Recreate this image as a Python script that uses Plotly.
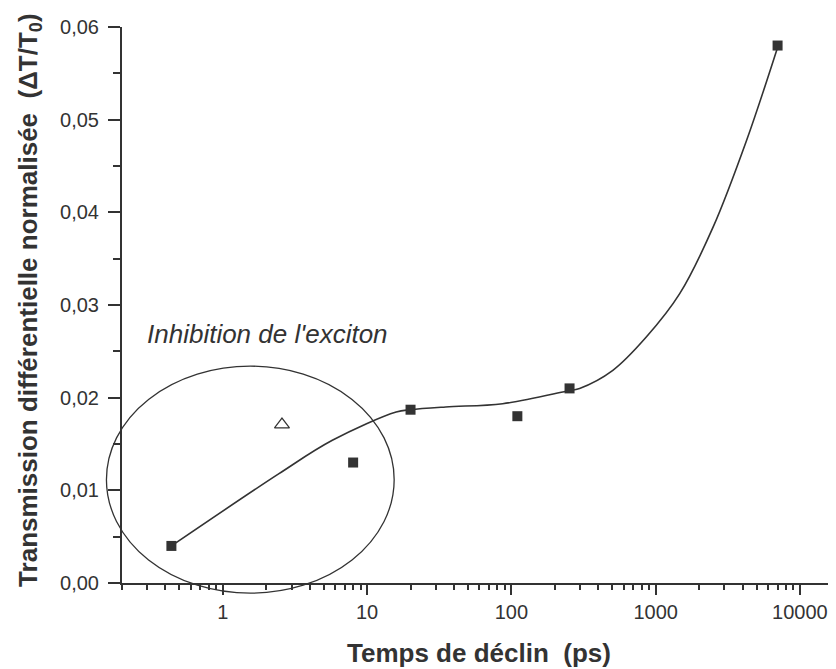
import numpy as np
import plotly.graph_objects as go

# Measured points (squares)
meas_x = [0.44, 8, 20, 110, 253, 7000]
meas_y = [0.0040, 0.0130, 0.0187, 0.0180, 0.0210, 0.0580]
# Open triangle point
tri_x = [2.57]
tri_y = [0.0171]
# Guide curve
fit_x = [0.44, 2.45, 5.74, 15.9, 20, 35, 87, 240, 297, 505, 861, 1468, 2500, 4265, 7000]
fit_y = [0.0040, 0.0118, 0.0154, 0.01845, 0.0187, 0.0190, 0.01935, 0.0207,
         0.0210, 0.02295, 0.02654, 0.03122, 0.0384, 0.04776, 0.0578]
# Ellipse bounds (data units)
ell_x = [0.156, 15.4]
ell_y = [-0.0011, 0.0234]

x_tickvals = [1, 10, 100, 1000, 10000]
x_ticktext = ["1", "10", "100", "1000", "10000"]
y_tickvals = [0, 0.01, 0.02, 0.03, 0.04, 0.05, 0.06]
y_ticktext = ["0,00", "0,01", "0,02", "0,03", "0,04", "0,05", "0,06"]
y_minor = [0.005, 0.015, 0.025, 0.035, 0.045, 0.055]
x_minor = [m * 10.0 ** d for d in range(-1, 5) for m in range(2, 10) if 0.2 <= m * 10.0 ** d <= 17000]

x_range = [np.log10(0.2), 4.25]
y_range = [0.0, 0.06]

ink = "#333333"
font_family = "Liberation Sans, Arial, sans-serif"

fig = go.Figure()
fig.add_trace(go.Scatter(x=fit_x, y=fit_y, mode="lines",
                         line=dict(color=ink, width=1.6, shape="spline", smoothing=1.0),
                         hoverinfo="skip", showlegend=False))
fig.add_trace(go.Scatter(x=meas_x, y=meas_y, mode="markers",
                         marker=dict(symbol="square", size=10, color=ink), showlegend=False, cliponaxis=False))
fig.add_trace(go.Scatter(x=tri_x, y=tri_y, mode="markers",
                         marker=dict(symbol="triangle-up-open", size=13, color=ink, line=dict(width=1.2)),
                         showlegend=False))


def to_paper_x(v):
    return (np.log10(v) - x_range[0]) / (x_range[1] - x_range[0])


def to_paper_y(v):
    return (v - y_range[0]) / (y_range[1] - y_range[0])


fig.add_shape(type="circle", xref="paper", yref="paper",
              x0=to_paper_x(ell_x[0]), x1=to_paper_x(ell_x[1]),
              y0=to_paper_y(ell_y[0]), y1=to_paper_y(ell_y[1]),
              line=dict(color=ink, width=1.3), layer="above")

fig.add_annotation(x=np.log10(2.05), y=0.0269, xref="x", yref="y", text="Inhibition de l'exciton",
                   showarrow=False, xanchor="center", yanchor="middle",
                   font=dict(family=font_family, size=26, color=ink, style="italic"))

# Axis titles as annotations (fixed positions)
fig.add_annotation(x=0.5, y=-0.126, xref="paper", yref="paper", xanchor="center", yanchor="middle",
                   text="Temps de déclin  (ps)", showarrow=False,
                   font=dict(size=26, color=ink, family=font_family, weight="bold"))
fig.add_annotation(x=-0.129, y=0.509, xref="paper", yref="paper", xanchor="center", yanchor="middle",
                   textangle=-90, text="Transmission différentielle normalisée  (ΔT/T<sub>0</sub>)", showarrow=False,
                   font=dict(size=26, color=ink, family=font_family, weight="bold"))

fig.update_layout(
    width=828, height=661,
    margin=dict(l=114, r=0, t=19, b=86, autoexpand=False),
    paper_bgcolor="white", plot_bgcolor="white",
    font=dict(family=font_family, color=ink),
    xaxis=dict(type="log", range=x_range, showgrid=False, zeroline=False, automargin=False,
               showline=True, linecolor=ink, linewidth=2,
               ticks="outside", ticklen=10, tickwidth=1.5, tickcolor=ink,
               tickvals=x_tickvals, ticktext=x_ticktext,
               tickfont=dict(size=20, color=ink, family=font_family),
               minor=dict(tickvals=x_minor, ticks="outside", ticklen=5, tickwidth=1.5, tickcolor=ink, showgrid=False)),
    yaxis=dict(range=y_range, showgrid=False, zeroline=False, automargin=False,
               showline=True, linecolor=ink, linewidth=2,
               ticks="outside", ticklen=12, tickwidth=1.5, tickcolor=ink,
               tickvals=y_tickvals, ticktext=y_ticktext, ticklabelstandoff=5,
               tickfont=dict(size=20, color=ink, family=font_family),
               minor=dict(tickvals=y_minor, ticks="outside", ticklen=7, tickwidth=1.5, tickcolor=ink, showgrid=False)),
)

fig.write_html("out.html")
